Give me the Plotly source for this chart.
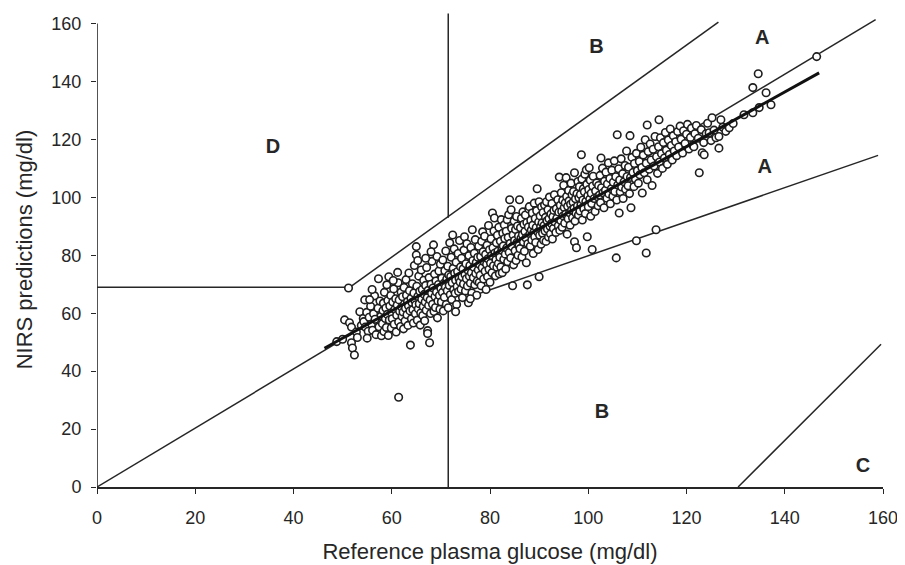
import plotly.graph_objects as go

# ---------------- data ----------------
tick_values = [0, 20, 40, 60, 80, 100, 120, 140, 160]
x_title = "Reference plasma glucose (mg/dl)"
y_title = "NIRS predictions (mg/dl)"

# (reference, NIRS prediction) pairs, grouped by region of the cloud
cloud_start = [
    (48.8, 50.2), (50.0, 51.0), (50.4, 57.7), (51.4, 56.7), (51.8, 55.2), (51.8, 49.8),
    (52.0, 48.0), (52.4, 45.6), (51.2, 68.7), (53.5, 60.5), (52.8, 53.5), (53.8, 55.8),
    (54.5, 64.6), (54.2, 58.2), (53.0, 51.6),
    (54.3, 57.1), (54.6, 55.2), (54.9, 60.3), (55.2, 53.8), (55.4, 58.6), (55.7, 62.4),
    (55.9, 56.3), (56.1, 54.1), (56.3, 59.8), (56.5, 66.0), (56.8, 52.6), (57.0, 57.4),
    (57.2, 61.7), (57.4, 55.3), (57.6, 64.2), (57.8, 59.0), (57.3, 71.9), (56.0, 68.2),
    (55.5, 64.7), (57.9, 52.2), (56.6, 57.9), (55.0, 51.4),
]
cloud_58_66 = [
    (58.1, 56.4), (58.2, 60.9), (58.3, 63.5), (58.4, 53.7), (58.5, 67.2), (58.7, 58.2),
    (58.8, 61.8), (58.9, 55.1), (59.0, 69.8), (59.1, 59.6), (59.2, 64.4), (59.4, 72.6),
    (59.3, 52.3), (59.5, 57.7), (59.6, 62.5), (59.8, 66.1), (59.9, 54.9), (60.0, 60.2),
    (60.1, 58.1), (60.2, 63.9), (60.4, 68.4), (60.5, 56.2), (60.6, 61.3), (60.8, 65.0),
    (60.9, 53.5), (61.0, 59.3), (61.1, 62.8), (61.3, 70.5), (61.4, 57.0), (61.5, 64.6),
    (61.6, 60.7), (61.8, 55.4), (61.9, 67.3), (61.4, 31.0), (62.0, 62.1), (61.2, 74.1),
    (60.3, 71.3),
    (62.1, 58.9), (62.2, 65.7), (62.3, 60.4), (62.4, 54.6), (62.5, 68.9), (62.6, 63.2),
    (62.7, 57.3), (62.8, 61.7), (62.9, 71.6), (63.0, 66.2), (63.1, 59.5), (63.2, 64.0),
    (63.3, 55.8), (63.4, 62.6), (63.5, 73.9), (63.6, 67.8), (63.8, 49.0), (63.7, 60.8),
    (63.9, 65.1), (64.0, 58.1), (64.1, 63.7), (64.2, 70.2), (64.3, 61.2), (64.4, 56.6),
    (64.5, 67.0), (64.6, 76.5), (64.7, 64.4), (64.8, 59.8), (64.9, 62.9), (65.0, 83.0),
    (65.0, 80.1), (65.1, 69.3), (65.2, 57.6), (65.3, 65.8), (65.4, 61.5), (65.5, 72.8),
    (65.6, 63.3), (65.7, 67.6), (65.8, 55.9), (65.9, 60.1), (66.0, 74.9), (65.3, 78.2),
]
cloud_66_74 = [
    (66.1, 64.8), (66.2, 68.2), (66.3, 59.2), (66.4, 62.3), (66.5, 71.4), (66.6, 66.5),
    (66.7, 57.4), (66.8, 63.9), (66.9, 69.6), (67.0, 61.0), (67.1, 75.8), (67.2, 65.4),
    (67.3, 54.0), (67.3, 53.0), (67.4, 67.9), (67.5, 62.7), (67.6, 72.3), (67.7, 49.8),
    (67.8, 64.6), (67.9, 59.9), (68.0, 70.0), (68.1, 66.9), (68.2, 77.9), (68.3, 63.1),
    (68.4, 68.7), (68.5, 83.6), (68.6, 60.6), (68.7, 73.5), (68.8, 65.8), (68.9, 62.0),
    (69.0, 71.1), (69.1, 67.3), (69.2, 79.6), (69.3, 58.4), (69.4, 64.2), (69.5, 69.9),
    (69.6, 74.6), (69.7, 66.1), (69.8, 61.4), (69.9, 76.9), (70.0, 68.5), (68.0, 81.2),
    (66.9, 79.0),
    (70.1, 63.9), (70.2, 72.1), (70.3, 67.2), (70.4, 78.4), (70.5, 60.8), (70.6, 70.3),
    (70.7, 65.5), (70.8, 74.7), (70.9, 69.0), (71.0, 81.5), (71.1, 63.0), (71.2, 71.8),
    (71.3, 67.8), (71.4, 76.2), (71.5, 61.9), (71.6, 73.2), (71.7, 69.6), (71.8, 84.3),
    (71.9, 66.4), (72.0, 72.7), (72.1, 79.3), (72.2, 64.7), (72.4, 87.0), (72.3, 70.5),
    (72.5, 75.5), (72.6, 68.1), (72.7, 82.2), (72.8, 73.8), (72.9, 66.9), (73.0, 71.4),
    (73.2, 63.0), (73.1, 77.6), (73.3, 69.2), (73.4, 74.4), (73.5, 80.6), (73.6, 67.5),
    (73.7, 72.0), (73.8, 85.1), (73.9, 70.8), (74.0, 76.0), (73.0, 60.5),
]
cloud_74_82 = [
    (74.1, 68.3), (74.2, 79.0), (74.3, 72.6), (74.4, 65.4), (74.5, 75.3), (74.6, 70.1),
    (74.8, 86.4), (74.7, 81.8), (74.9, 73.4), (75.0, 67.7), (75.1, 77.1), (75.2, 71.9),
    (75.3, 84.0), (75.4, 69.4), (75.5, 74.8), (75.6, 63.6), (75.7, 79.9), (75.8, 72.8),
    (75.9, 76.5), (76.0, 70.4), (76.1, 82.7), (76.2, 74.0), (76.4, 88.8), (76.3, 67.0),
    (76.5, 78.2), (76.6, 72.3), (76.7, 75.9), (76.8, 80.7), (76.9, 69.8), (77.0, 85.4),
    (77.1, 73.7), (77.2, 77.5), (77.3, 66.2), (77.4, 71.1), (77.5, 79.3), (77.6, 74.9),
    (77.7, 83.1), (77.8, 70.6), (77.9, 76.8), (76.0, 65.0),
    (78.0, 73.1), (78.1, 79.6), (78.2, 69.5), (78.3, 84.8), (78.5, 88.1), (78.4, 75.7),
    (78.6, 81.2), (78.7, 71.8), (78.8, 77.8), (78.9, 86.6), (79.0, 74.5), (79.1, 80.3),
    (79.2, 68.2), (79.3, 76.9), (79.4, 83.5), (79.5, 72.6), (79.6, 78.8), (79.7, 90.3),
    (79.8, 75.2), (79.9, 81.9), (80.0, 70.7), (80.1, 77.3), (80.2, 85.7), (80.3, 79.9),
    (80.5, 94.6), (80.4, 74.0), (80.6, 82.6), (80.7, 76.4), (80.8, 88.4), (80.9, 92.9),
    (81.0, 80.8), (81.1, 72.9), (81.2, 78.5), (81.3, 84.3), (81.4, 75.9), (81.5, 86.9),
    (81.6, 81.4), (81.7, 77.2), (81.8, 89.7), (81.9, 73.6),
]
cloud_82_90 = [
    (82.0, 79.3), (82.1, 84.9), (82.3, 92.3), (82.2, 76.0), (82.4, 81.8), (82.5, 74.0),
    (82.6, 87.6), (82.7, 83.2), (82.8, 78.6), (82.9, 90.5), (83.0, 85.8), (83.1, 80.4),
    (83.2, 75.3), (83.3, 88.3), (83.5, 92.3), (83.4, 82.5), (83.6, 77.8), (83.7, 86.2),
    (83.8, 94.0), (83.9, 81.0), (84.0, 99.2), (84.1, 84.1), (84.3, 95.7), (84.2, 79.1),
    (84.4, 89.3), (84.6, 69.5), (84.5, 83.0), (84.7, 87.0), (84.8, 76.7), (84.9, 91.8),
    (85.0, 85.1), (85.1, 81.6), (85.2, 88.9), (85.3, 78.2), (85.4, 93.4), (85.5, 84.4),
    (85.6, 90.1), (85.7, 80.0), (85.8, 86.7), (85.9, 83.3), (86.0, 99.2),
    (86.1, 82.3), (86.2, 89.5), (86.3, 85.9), (86.4, 92.8), (86.5, 79.4), (86.6, 87.1),
    (86.7, 95.0), (86.8, 84.6), (86.9, 90.7), (87.0, 81.4), (87.1, 88.2), (87.2, 93.9),
    (87.4, 77.4), (87.3, 86.0), (87.5, 91.3), (87.6, 69.8), (87.7, 84.0), (87.8, 89.8),
    (87.9, 96.0), (88.0, 96.8), (88.1, 87.4), (88.2, 83.1), (88.3, 92.1), (88.4, 88.7),
    (88.5, 85.3), (88.6, 94.6), (88.7, 90.4), (88.8, 80.6), (88.9, 87.9), (89.0, 98.0),
    (89.1, 86.4), (89.2, 92.7), (89.3, 84.4), (89.4, 89.6), (89.6, 103.0), (89.5, 95.4),
    (89.7, 88.0), (89.8, 82.0), (89.9, 91.5),
]
cloud_90_98 = [
    (90.0, 98.5), (90.0, 72.6), (90.1, 86.9), (90.2, 93.6), (90.3, 89.9), (90.4, 83.8),
    (90.5, 96.7), (90.6, 91.2), (90.7, 87.6), (90.8, 94.8), (90.9, 85.2), (91.0, 90.3),
    (91.1, 97.4), (91.2, 88.4), (91.3, 93.1), (91.5, 98.5), (91.4, 84.8), (91.6, 91.9),
    (91.7, 89.1), (91.8, 95.7), (91.9, 86.3), (92.0, 92.6), (92.1, 100.1), (92.2, 90.0),
    (92.3, 87.4), (92.4, 94.3), (92.5, 91.0), (92.6, 97.9), (92.7, 85.6), (92.8, 93.3),
    (92.9, 89.3), (93.1, 100.9), (93.0, 95.5), (93.2, 91.6), (93.4, 87.9), (93.5, 96.1),
    (93.6, 92.8), (93.8, 99.2), (93.9, 90.2), (94.0, 94.9),
    (94.1, 107.0), (94.2, 88.6), (94.3, 97.3), (94.4, 92.0), (94.5, 101.6), (94.6, 95.1),
    (94.7, 89.7), (94.8, 99.0), (94.9, 93.6), (95.0, 104.2), (95.1, 96.5), (95.2, 91.1),
    (95.3, 98.1), (95.5, 106.8), (95.4, 94.2), (95.6, 100.3), (95.7, 87.3), (95.8, 96.9),
    (95.9, 92.6), (96.0, 102.4), (96.1, 98.8), (96.2, 94.7), (96.3, 90.4), (96.4, 97.6),
    (96.5, 104.9), (96.6, 95.6), (96.7, 100.9), (96.8, 93.0), (96.9, 98.3), (97.0, 102.0),
    (97.2, 108.5), (97.1, 96.2), (97.2, 84.7), (97.3, 91.8), (97.4, 99.5), (97.6, 82.6),
    (97.5, 94.5), (97.7, 101.3), (97.8, 97.0), (97.9, 105.5), (98.0, 93.9),
]
cloud_98_106 = [
    (98.1, 99.9), (98.2, 103.7), (98.3, 95.3), (98.4, 101.0), (98.6, 114.7), (98.5, 97.4),
    (98.7, 106.3), (98.8, 92.2), (98.9, 99.1), (99.0, 103.0), (99.1, 96.0), (99.2, 101.9),
    (99.3, 108.0), (99.4, 94.4), (99.6, 109.5), (99.5, 98.6), (99.7, 104.5), (99.8, 86.4),
    (99.9, 100.6), (100.0, 96.8), (100.2, 110.2), (100.1, 102.7), (100.3, 99.4),
    (100.4, 105.9), (100.5, 93.5), (100.6, 101.4), (100.8, 82.0), (100.7, 97.9),
    (100.9, 103.9), (101.0, 107.3), (101.2, 99.6), (101.4, 95.1), (101.5, 102.2),
    (101.7, 105.0), (101.9, 100.2), (102.0, 97.1),
    (102.1, 104.1), (102.3, 100.8), (102.4, 107.6), (102.6, 113.6), (102.5, 98.2),
    (102.7, 103.3), (102.9, 110.1), (103.0, 101.6), (103.2, 96.4), (103.3, 105.6),
    (103.5, 102.5), (103.6, 108.7), (103.8, 99.7), (103.9, 104.6), (104.1, 111.9),
    (104.2, 101.2), (104.4, 106.5), (104.5, 97.8), (104.7, 103.0), (104.8, 109.4),
    (105.0, 100.4), (105.1, 105.2), (105.3, 112.6), (105.4, 102.0), (105.6, 107.1),
    (105.7, 79.1), (105.9, 121.6), (105.8, 99.1), (106.0, 104.3),
]
cloud_106_118 = [
    (106.3, 94.6), (106.2, 109.9), (106.4, 106.0), (106.5, 101.9), (106.7, 113.3),
    (106.8, 103.6), (107.0, 108.2), (107.1, 99.6), (107.3, 105.4), (107.5, 111.0),
    (107.6, 102.8), (107.8, 116.0), (107.9, 107.2), (108.1, 104.0), (108.2, 110.4),
    (108.5, 121.3), (108.4, 101.3), (108.7, 96.4), (108.6, 106.9), (108.9, 113.8),
    (109.1, 108.6), (109.3, 103.7), (109.4, 111.7), (109.6, 106.3), (109.8, 85.0),
    (109.8, 115.2), (110.0, 109.2),
    (110.2, 104.9), (110.4, 112.4), (110.5, 107.8), (110.7, 117.3), (110.9, 110.3),
    (111.0, 101.5), (111.2, 114.6), (111.4, 108.5), (111.6, 119.9), (111.8, 80.8),
    (111.8, 111.8), (112.0, 125.0), (112.0, 106.1), (112.2, 115.8), (112.4, 109.7),
    (112.6, 118.4), (112.8, 112.9), (113.0, 104.1), (113.2, 116.6), (113.4, 110.8),
    (113.6, 121.0), (113.8, 88.8), (113.9, 114.0),
    (114.1, 108.3), (114.4, 126.8), (114.3, 117.5), (114.5, 112.2), (114.7, 120.6),
    (114.9, 115.1), (115.1, 110.0), (115.3, 118.9), (115.5, 113.6), (115.7, 122.4),
    (115.9, 116.3), (116.1, 111.4), (116.3, 119.8), (116.5, 114.8), (116.7, 123.6),
    (116.9, 117.9), (117.1, 112.9), (117.3, 121.3), (117.5, 116.0), (117.8, 119.2),
    (118.0, 114.4),
]
cloud_top = [
    (118.2, 122.7), (118.4, 117.4), (118.7, 124.6), (118.9, 120.1), (119.2, 115.3),
    (119.4, 123.0), (119.7, 118.6), (120.0, 121.8), (120.2, 125.2), (120.5, 116.7),
    (120.8, 120.7), (121.0, 123.9), (121.3, 118.0), (121.5, 117.5), (121.7, 122.0),
    (122.0, 124.8),
    (122.4, 120.4), (122.6, 108.5), (123.0, 123.4), (123.2, 115.4), (123.6, 114.7),
    (123.5, 118.9), (124.0, 122.0), (124.3, 125.6), (124.6, 122.3), (125.0, 119.6),
    (125.2, 127.5), (125.6, 123.2), (126.0, 120.6), (126.6, 121.0), (126.6, 117.0),
    (127.0, 126.8), (127.4, 124.2), (128.0, 122.8), (128.7, 124.0), (129.5, 125.5),
    (131.7, 128.5), (133.5, 129.2), (134.8, 131.0), (133.5, 137.9), (134.6, 142.7),
    (136.2, 136.1), (137.2, 132.0), (146.5, 148.6),
]

# grid boundary lines: (x0, y0, x1, y1)
grid_lines = [
    (0, 0, 158.5, 161.4),        # diagonal / upper A
    (72, 63.4, 159, 114.5),      # lower A
    (51.5, 69, 126.5, 160.5),    # upper B / D
    (0, 69, 51.5, 69),           # D horizontal
    (71.5, 93, 71.5, 163.5),     # upper vertical
    (71.5, 0, 71.5, 63.3),       # lower vertical
    (130.5, 0, 159.6, 49.3),     # C
]
regression = [(46.3, 47.9), (147.0, 143.0)]

zone_labels = ["D", "B", "A", "A", "B", "C"]
zone_x = [35.8, 101.7, 135.4, 135.9, 102.8, 155.9]
zone_y = [116.9, 151.7, 154.6, 110.0, 25.6, 6.8]

# ---------------- figure ----------------
ink = "#262626"
font = "Liberation Sans, Arial, sans-serif"

pts = (cloud_start + cloud_58_66 + cloud_66_74 + cloud_74_82 + cloud_82_90 +
       cloud_90_98 + cloud_98_106 + cloud_106_118 + cloud_top)
ref = [p[0] for p in pts]
nirs = [p[1] for p in pts]

fig = go.Figure()
for (x0, y0, x1, y1) in grid_lines:
    fig.add_trace(go.Scatter(x=[x0, x1], y=[y0, y1], mode="lines",
                             line=dict(color=ink, width=1.5), hoverinfo="skip",
                             showlegend=False))

fig.add_trace(go.Scatter(x=ref, y=nirs, mode="markers", showlegend=False,
                         marker=dict(symbol="circle", size=7.5, color="white",
                                     line=dict(color="#1e1e1e", width=1.6))))

fig.add_trace(go.Scatter(x=[p[0] for p in regression], y=[p[1] for p in regression],
                         mode="lines", line=dict(color="#111111", width=3),
                         showlegend=False, hoverinfo="skip"))

fig.add_trace(go.Scatter(x=zone_x, y=zone_y, mode="text", text=zone_labels,
                         textfont=dict(family=font, size=20, color=ink),
                         texttemplate="<b>%{text}</b>", showlegend=False,
                         hoverinfo="skip"))

# y axis line only up to 160
fig.add_shape(type="line", x0=0, x1=0, y0=0, y1=160, xref="x", yref="y",
              line=dict(color=ink, width=1.6))

# page body has an 8px margin, so the figure is 8px smaller than the window
fig.update_layout(
    width=897, height=557,
    margin=dict(l=89, r=22, t=4, b=78),
    paper_bgcolor="white", plot_bgcolor="white",
    font=dict(family=font, color=ink),
    xaxis=dict(range=[0, 160], tickvals=tick_values, ticks="outside", ticklen=5,
               tickwidth=1.3, tickcolor=ink, showline=True, linecolor=ink,
               linewidth=1.6, showgrid=False, zeroline=False,
               tickfont=dict(size=18, family=font, color=ink),
               ticklabelstandoff=9,
               title=dict(text=x_title, font=dict(size=22, family=font, color=ink),
                          standoff=16),
               automargin=False),
    yaxis=dict(range=[0, 164], tickvals=tick_values, ticks="outside", ticklen=5,
               tickwidth=1.3, tickcolor=ink, showline=False, showgrid=False,
               zeroline=False, tickfont=dict(size=18, family=font, color=ink),
               ticklabelstandoff=6,
               title=dict(text=y_title, font=dict(size=22, family=font, color=ink),
                          standoff=12),
               automargin=False),
)

fig.write_html("out.html")
